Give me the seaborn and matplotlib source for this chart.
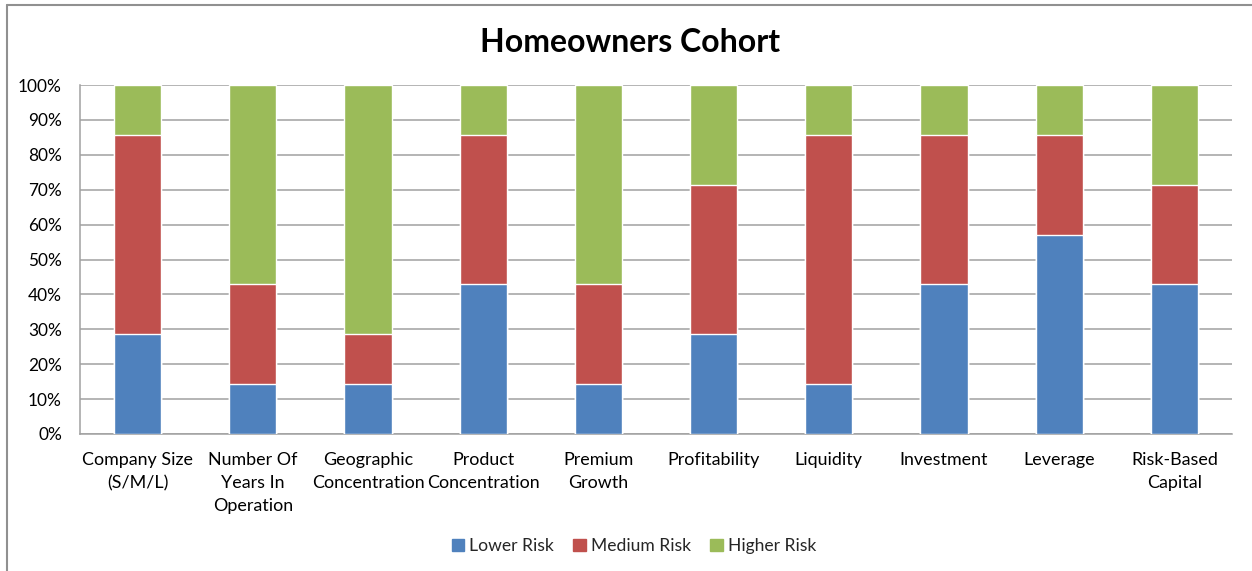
import matplotlib
matplotlib.use("Agg")
import matplotlib.pyplot as plt
from matplotlib.patches import Patch
from matplotlib.lines import Line2D
import seaborn as sns
import numpy as np
import pandas as pd

categories = ["Company Size\n(S/M/L)", "Number Of\nYears In\nOperation", "Geographic\nConcentration",
              "Product\nConcentration", "Premium\nGrowth", "Profitability", "Liquidity",
              "Investment", "Leverage", "Risk-Based\nCapital"]
# counts of companies per risk level (7 per factor)
lower_risk = [2, 1, 1, 3, 1, 2, 1, 3, 4, 3]
medium_risk = [4, 2, 1, 3, 2, 3, 5, 3, 2, 2]
higher_risk = [1, 4, 5, 1, 4, 2, 1, 1, 1, 2]
series_names = ["Lower Risk", "Medium Risk", "Higher Risk"]
colors = ["#4F81BD", "#C0504D", "#9BBB59"]

sns.set_style("white")
plt.rcParams['font.family'] = ['Lato', 'DejaVu Sans']

low = np.array(lower_risk, float)
med = np.array(medium_risk, float)
hig = np.array(higher_risk, float)
tot = low + med + hig
p_low = low / tot * 100
p_med = med / tot * 100
p_hig = hig / tot * 100

df = pd.DataFrame({"cat": categories, "low": p_low, "lowmed": p_low + p_med,
                   "all": p_low + p_med + p_hig})

fig = plt.figure(figsize=(12.52, 5.71), dpi=100)
ax = fig.add_axes([80/1252, 1-434/571, (1232-80)/1252, (434-85)/571])

w = 0.41
sns.barplot(data=df, x="cat", y="all", color=colors[2], width=w, ax=ax, saturation=1, zorder=3)
sns.barplot(data=df, x="cat", y="lowmed", color=colors[1], width=w, ax=ax, saturation=1, zorder=3)
sns.barplot(data=df, x="cat", y="low", color=colors[0], width=w, ax=ax, saturation=1, zorder=3)

ax.set_ylim(0, 100)
ax.set_xlim(-0.5, len(categories) - 0.5)
ax.set_yticks(np.arange(0, 101, 10))
ax.set_yticklabels([f"{v}%" for v in range(0, 101, 10)], fontsize=12.4, color="#000000")
ax.yaxis.grid(True, color="#A0A0A0", linewidth=1.1, zorder=0)
ax.set_axisbelow(True)
ax.set_xlabel("")
ax.set_ylabel("")

ax.set_xticks(np.arange(len(categories)))
ax.set_xticklabels(categories, fontsize=12.9, color="#000000", linespacing=1.55, va="top")
ax.tick_params(axis="x", which="major", length=0, pad=13)
ax.set_xticks(np.arange(-0.5, len(categories), 1.0), minor=True)
ax.tick_params(axis="x", which="minor", length=4.5, width=1.1, color="#A0A0A0", direction="out")
ax.tick_params(axis="y", which="major", length=6, width=1.1, color="#A0A0A0", direction="out", pad=7)

for s in ["top", "right"]:
    ax.spines[s].set_visible(False)
for s in ["left", "bottom"]:
    ax.spines[s].set_color("#A0A0A0")
    ax.spines[s].set_linewidth(1.1)

fig.text(630/1252, 1-42/571, "Homeowners Cohort", ha="center", va="center",
         fontsize=23, fontweight="bold", color="#000000")

handles = [Patch(facecolor=c, edgecolor=c) for c in colors]
fig.legend(handles, series_names, loc="center", bbox_to_anchor=(634/1252, 1-546/571),
           ncol=3, frameon=False, fontsize=12.6, handlelength=0.7, handleheight=0.7,
           handletextpad=0.3, columnspacing=1.1)

# chart-area border (top and left visible)
fig.add_artist(Line2D([6.5/1252, 6.5/1252], [0, 1-4.5/571], transform=fig.transFigure,
                      color="#909090", linewidth=1.5))
fig.add_artist(Line2D([6.5/1252, 1], [1-4.5/571, 1-4.5/571], transform=fig.transFigure,
                      color="#909090", linewidth=1.5))

fig.savefig("out.png", dpi=100)
